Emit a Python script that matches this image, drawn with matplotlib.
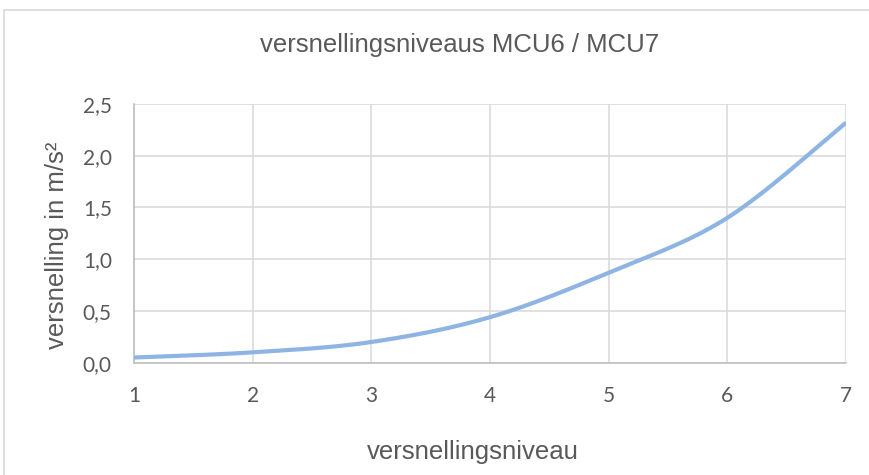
import numpy as np
import matplotlib
matplotlib.use("Agg")
from matplotlib import pyplot as plt
from matplotlib.patches import Rectangle
from matplotlib.ticker import FuncFormatter

# versnellingsniveau tegen versnelling (m/s²)
niveaus = [1, 2, 3, 4, 5, 6, 7]
versnelling = [0.05, 0.10, 0.20, 0.44, 0.87, 1.40, 2.32]
y_ticks = [0.0, 0.5, 1.0, 1.5, 2.0, 2.5]


def smooth(x, y, n=40):
    # vloeiende lijn door de punten (Bezier met Catmull-Rom controlepunten)
    p = np.column_stack([x, y]).astype(float)
    ext = np.vstack([p[0], p, p[-1]])
    pts = []
    t = np.linspace(0, 1, n)[:, None]
    for i in range(len(p) - 1):
        p0, p3 = p[i], p[i + 1]
        p1 = p0 + (ext[i + 2] - ext[i]) / 6
        p2 = p3 - (ext[i + 3] - ext[i + 1]) / 6
        seg = ((1 - t) ** 3) * p0 + 3 * ((1 - t) ** 2) * t * p1 + 3 * (1 - t) * t ** 2 * p2 + t ** 3 * p3
        pts.append(seg if i == 0 else seg[1:])
    pts = np.vstack(pts)
    return pts[:, 0], pts[:, 1]


fig = plt.figure(figsize=(8.7, 4.75), dpi=100)
# rand van het grafiekgebied
fig.patches.append(Rectangle((4 / 870, -0.1), 1.2, 1 - 10 / 475 + 0.1, transform=fig.transFigure,
                             fill=False, edgecolor='#d9d9d9', linewidth=1.2))

ax = fig.add_axes([134 / 870, 1 - 362.7 / 475, (846 - 134) / 870, (362.7 - 104) / 475])
sx, sy = smooth(niveaus, versnelling)
ax.plot(sx, sy, color='#8eb4e3', linewidth=3, solid_capstyle='butt', zorder=3)

ax.set_xlim(1, 7)
ax.set_ylim(0, 2.5)
ax.set_xticks(niveaus)
ax.set_yticks(y_ticks)
ax.yaxis.set_major_formatter(FuncFormatter(lambda v, pos: f"{v:.1f}".replace('.', ',')))
ax.grid(True, color='#d9d9d9', linewidth=1.1)
ax.set_axisbelow(True)
for s in ['top', 'right']:
    ax.spines[s].set_visible(False)
for s in ['left', 'bottom']:
    ax.spines[s].set_color('#bfbfbf')
    ax.spines[s].set_linewidth(1.2)
ax.tick_params(length=0, labelsize=15, labelcolor='#595959')
ax.tick_params(axis='x', pad=17)
ax.tick_params(axis='y', pad=16)
for lab in ax.get_xticklabels() + ax.get_yticklabels():
    lab.set_fontfamily('Lato')

fig.text(460 / 870, 1 - 45 / 475, 'versnellingsniveaus MCU6 / MCU7', ha='center', va='center',
         fontsize=18.5, color='#595959', family='Liberation Sans')
fig.text(473 / 870, 1 - 452 / 475, 'versnellingsniveau', ha='center', va='center',
         fontsize=18.5, color='#595959', family='Liberation Sans')
fig.text(57 / 870, 1 - 245 / 475, 'versnelling in m/s²', ha='center', va='center', rotation=90,
         fontsize=18.5, color='#595959', family='Liberation Sans')

fig.savefig('out.png', dpi=100)
